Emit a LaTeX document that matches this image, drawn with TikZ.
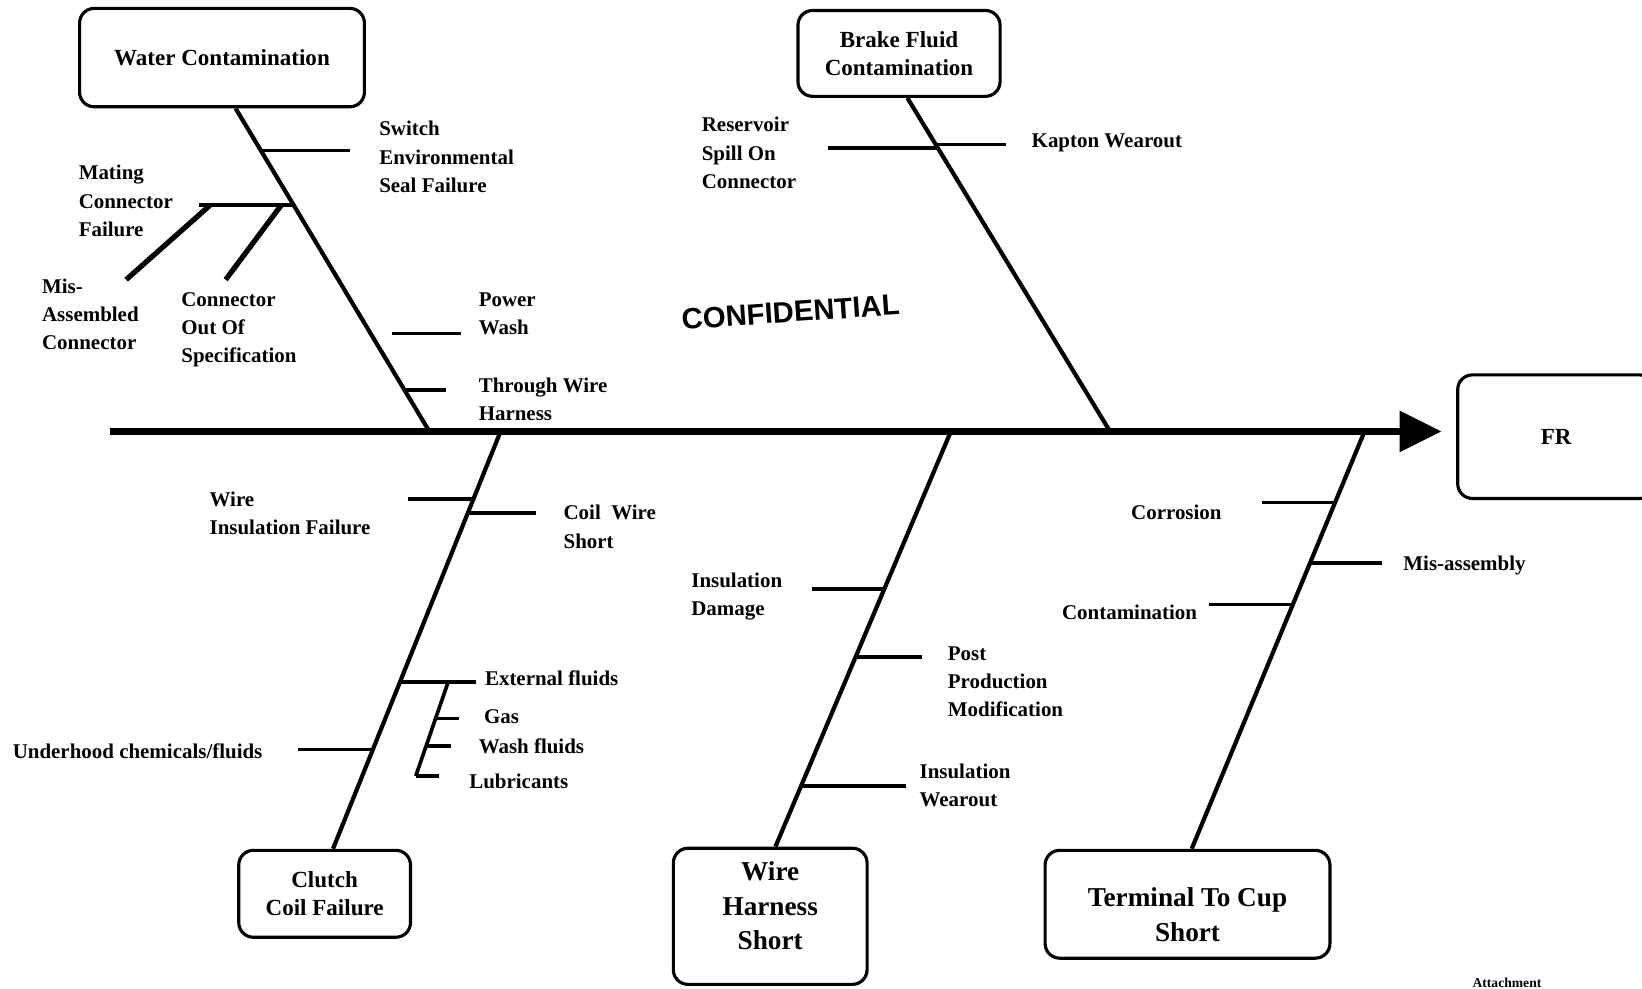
\documentclass[tikz,border=0pt]{standalone}
\usepackage{fontspec}
\setmainfont{Liberation Serif}
\newfontfamily\stampfont{Liberation Sans}
\usetikzlibrary{calc,arrows.meta}

\begin{document}
\begin{tikzpicture}[x=1pt,y=-1pt,
  cause/.style={draw,line width=3pt,rounded corners=14pt,align=center,inner sep=0pt,font=\bfseries\fontsize{22}{27}\selectfont},
  bigtext/.style={align=center,font=\bfseries\fontsize{26}{33}\selectfont},
  spine/.style={line width=6.5pt,-{Triangle[length=40pt,width=38pt]},shorten >=14pt},
  bone/.style={line width=4pt},
  twig/.style={line width=3.5pt},
  lbl/.style={align=left,anchor=west,inner sep=0pt,font=\bfseries\fontsize{20}{27}\selectfont}]
  \useasboundingbox (0,0) rectangle (1568,944);

  % heads
  \node[cause,minimum width=272pt,minimum height=94pt] (water) at (212,55) {Water Contamination};
  \node[cause,minimum width=193pt,minimum height=82pt] (brake) at (858.5,51) {Brake Fluid\\Contamination};
  \node[cause,minimum width=164pt,minimum height=83pt] (clutch) at (310,853.5) {Clutch\\Coil Failure};
  \node[cause,minimum width=185pt,minimum height=130pt,
    label={[bigtext,yshift=10pt]center:Wire\\Harness\\Short}] (harness) at (735.5,875) {};
  \node[cause,minimum width=272pt,minimum height=103pt,
    label={[bigtext,yshift=-10pt]center:Terminal To Cup\\Short}] (terminal) at (1134,863.5) {};
  \node[cause,minimum width=188pt,minimum height=118pt] (fr) at (1486,417) {FR};

  % main spine
  \coordinate (tail) at (105,412);
  \draw[spine] (tail) -- (tail -| fr.west);

  % water contamination
  \coordinate (wtop) at ([xshift=13pt]water.south);
  \coordinate (wend) at (410,412);
  \draw[bone] (wtop) -- (wend);
  \draw[twig] ($(wtop)!0.13!(wend)$) -- ++(85,0);
  \coordinate (mate) at ($(wtop)!0.3!(wend)$);
  \draw[twig] (mate) -- ++(-90,0);
  \draw[line width=5pt] ([xshift=-80pt]mate) -- ++(-80,71);
  \draw[line width=5pt] ([xshift=-12pt]mate) -- ++(-53,71);
  \draw[twig] ($(wtop)!0.697!(wend)+(20,0)$) -- ++(66,0);
  \draw[twig] ($(wtop)!0.871!(wend)$) -- ++(40,0);
  \node[lbl] (switch) at (362,150) {Switch\\Environmental\\Seal Failure};
  \node[lbl] (mating) at (75,192) {Mating\\Connector\\Failure};
  \node[lbl] (misasm) at (40,300) {Mis-\\Assembled\\Connector};
  \node[lbl] (outspec) at (173,315) {Connector\\Out Of\\Specification};
  \node[lbl] (power) at (457,300) {Power\\Wash};
  \node[lbl] (through) at (457,381) {Through Wire\\Harness};

  % brake fluid
  \coordinate (btop) at ([xshift=8pt]brake.south);
  \coordinate (bend) at (1060,412);
  \draw[bone] (btop) -- (bend);
  \draw[twig] ($(btop)!0.15!(bend)$) -- ++(-105,0);
  \draw[twig] ($(btop)!0.14!(bend)$) -- ++(67,0);
  \node[lbl] (reservoir) at (670,146) {Reservoir\\Spill On\\Connector};
  \node[lbl] (kapton) at (985,136) {Kapton Wearout};

  \node[font=\stampfont\bfseries\fontsize{28}{30}\selectfont,rotate=4] (conf) at (755,298) {CONFIDENTIAL};

  % clutch coil
  \coordinate (ctop) at (478,412);
  \coordinate (cbot) at ([xshift=8pt]clutch.north);
  \draw[bone] (ctop) -- (cbot);
  \draw[twig] ($(ctop)!0.1625!(cbot)$) -- ++(-62,0);
  \draw[twig] ($(ctop)!0.195!(cbot)$) -- ++(65,0);
  \coordinate (ext) at ($(ctop)!0.6!(cbot)$);
  \draw[twig] (ext) -- ++(73,0);
  \coordinate (ftop) at ($(ext)+(46,0)$);
  \coordinate (fbot) at ($(ftop)+(-31,90)$);
  \draw[twig] (ftop) -- (fbot);
  \draw[twig] ($(ftop)!0.39!(fbot)$) -- ++(22,0);
  \draw[twig] ($(ftop)!0.68!(fbot)$) -- ++(24,0);
  \draw[twig] (fbot) -- ++(22,0);
  \draw[twig] ($(ctop)!0.7625!(cbot)$) -- ++(-71,0);
  \node[lbl] (wireins) at (200,490) {Wire\\Insulation Failure};
  \node[lbl] (coil) at (538,503) {Coil~ Wire\\Short};
  \node[lbl] (external) at (463,648) {External fluids};
  \node[lbl] (gas) at (462,684) {Gas};
  \node[lbl] (wash) at (457,713) {Wash fluids};
  \node[lbl] (lube) at (448,746) {Lubricants};
  \node[lbl] (underhood) at (12,717) {Underhood chemicals/fluids};

  % wire harness
  \coordinate (htop) at (908,412);
  \coordinate (hbot) at ([xshift=5pt]harness.north);
  \draw[bone] (htop) -- (hbot);
  \draw[twig] ($(htop)!0.379!(hbot)$) -- ++(-69,0);
  \draw[twig] ($(htop)!0.543!(hbot)$) -- ++(63,0);
  \draw[twig] ($(htop)!0.854!(hbot)$) -- ++(100,0);
  \node[lbl] (damage) at (660,570) {Insulation\\Damage};
  \node[lbl] (postprod) at (905,651) {Post\\Production\\Modification};
  \node[lbl] (wearout) at (878,750) {Insulation\\Wearout};

  % terminal to cup
  \coordinate (ttop) at (1303,412);
  \coordinate (tbot) at ([xshift=4pt]terminal.north);
  \draw[bone] (ttop) -- (tbot);
  \draw[twig] ($(ttop)!0.17!(tbot)$) -- ++(-70,0);
  \draw[twig] ($(ttop)!0.315!(tbot)$) -- ++(69,0);
  \draw[twig] ($(ttop)!0.415!(tbot)$) -- ++(-80,0);
  \node[lbl] (corrosion) at (1080,489) {Corrosion};
  \node[lbl] (misassembly) at (1340,540) {Mis-assembly};
  \node[lbl] (contam) at (1014,585) {Contamination};

  \node[anchor=south west,inner sep=1pt,font=\bfseries\fontsize{13}{15}\selectfont] (attach) at (1405,944) {Attachment};
\end{tikzpicture}
\end{document}
